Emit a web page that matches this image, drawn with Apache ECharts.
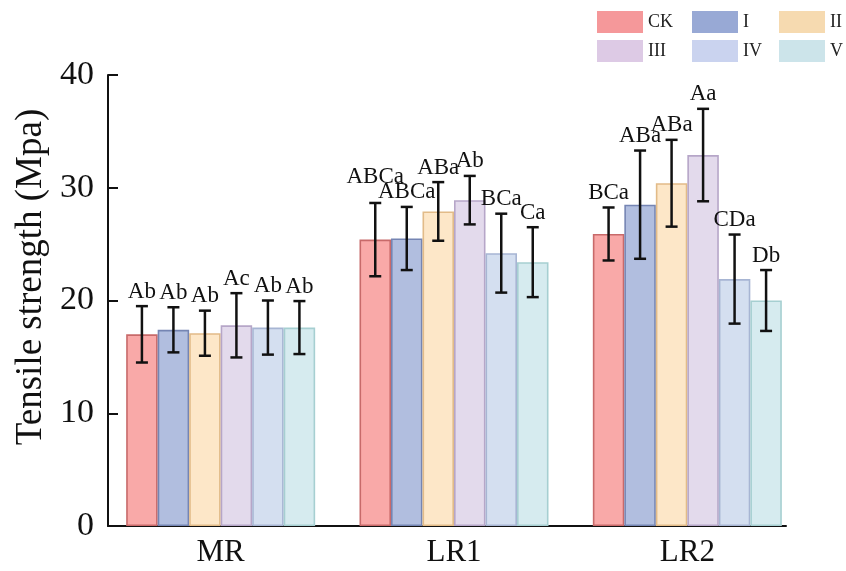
<!DOCTYPE html>
<html><head><meta charset="utf-8">
<script src="https://cdn.jsdelivr.net/npm/echarts@6/dist/echarts.min.js"></script>
<style>html,body{margin:0;padding:0;background:#fff}#c{width:846px;height:571px}</style>
</head><body><div id="c"></div>
<script>
// ---- data ----
var categories = ['MR', 'LR1', 'LR2'];
var seriesNames = ['CK', 'I', 'II', 'III', 'IV', 'V'];
var meanCK  = [17.0, 25.4, 25.9];
var meanI   = [17.4, 25.5, 28.5];
var meanII  = [17.1, 27.9, 30.4];
var meanIII = [17.8, 28.9, 32.9];
var meanIV  = [17.6, 24.2, 21.9];
var meanV   = [17.6, 23.4, 20.0];
var errCK  = [2.5, 3.25, 2.35];
var errI   = [2.0, 2.8, 4.8];
var errII  = [2.0, 2.6, 3.85];
var errIII = [2.85, 2.15, 4.1];
var errIV  = [2.4, 3.5, 3.95];
var errV   = [2.35, 3.1, 2.7];
var labCK  = ['Ab', 'ABCa', 'BCa'];
var labI   = ['Ab', 'ABCa', 'ABa'];
var labII  = ['Ab', 'ABa', 'ABa'];
var labIII = ['Ac', 'Ab', 'Aa'];
var labIV  = ['Ab', 'BCa', 'CDa'];
var labV   = ['Ab', 'Ca', 'Db'];
var yTicks = [0, 10, 20, 30, 40];

// ---- styles ----
var means = [meanCK, meanI, meanII, meanIII, meanIV, meanV];
var errs = [errCK, errI, errII, errIII, errIV, errV];
var labs = [labCK, labI, labII, labIII, labIV, labV];
var fills = ['#F9A9A8', '#B1BEDF', '#FDE7C8', '#E3DAEC', '#D4DFF0', '#D6EBEF'];
var borders = ['#C86A6A', '#7585B3', '#E2BB88', '#B6A6C8', '#A7B5D3', '#A6CFD1'];
var legendColors = ['#F5989A', '#98A9D5', '#F6DAB0', '#DDCAE5', '#CAD3EF', '#CCE4EA'];
var legendPos = [[597, 11], [692, 11], [779, 11], [597, 40], [692, 40], [779, 40]];
var GAP = 0.19;
var FONT = '"Liberation Serif", "Times New Roman", serif';

var series = [];
seriesNames.forEach(function (n, i) {
  series.push({
    name: n, type: 'bar', xAxisIndex: 0, yAxisIndex: 0,
    data: means[i], barGap: '0%', barCategoryGap: (GAP * 100) + '%',
    itemStyle: { color: fills[i], borderColor: borders[i], borderWidth: 1.6 },
    emphasis: { disabled: true }
  });
});

var errData = [];
var errMeta = [];
seriesNames.forEach(function (n, i) {
  categories.forEach(function (c, j) {
    errData.push([j, means[i][j], errs[i][j], i]);
    errMeta.push(labs[i][j]);
  });
});

series.push({
  type: 'custom', xAxisIndex: 0, yAxisIndex: 0, z: 10,
  data: errData,
  renderItem: function (params, api) {
    var cat = api.value(0), m = api.value(1), e = api.value(2), si = api.value(3);
    var band = api.size([1, 0])[0];
    var bw = band * (1 - GAP) / 6;
    var c = api.coord([cat, m]);
    var x = c[0] - 3 * bw + (si + 0.5) * bw;
    var top = api.coord([cat, m + e])[1];
    var bot = api.coord([cat, m - e])[1];
    var cap = 6;
    var st = { stroke: '#111', lineWidth: 2.5 };
    var lift = (si === 0 && cat === 1) ? 12 : 0;
    return {
      type: 'group',
      children: [
        { type: 'line', shape: { x1: x, y1: top, x2: x, y2: bot }, style: st },
        { type: 'line', shape: { x1: x - cap, y1: top, x2: x + cap, y2: top }, style: st },
        { type: 'line', shape: { x1: x - cap, y1: bot, x2: x + cap, y2: bot }, style: st },
        { type: 'text', x: x, y: top - 3 - lift,
          style: { text: errMeta[params.dataIndex], fill: '#111', font: '23px ' + FONT,
                   textAlign: 'center', textVerticalAlign: 'bottom' } }
      ]
    };
  }
});

var legends = seriesNames.map(function (n, i) {
  return {
    left: legendPos[i][0], top: legendPos[i][1], itemWidth: 46, itemHeight: 22,
    icon: 'rect', selectedMode: false, padding: 0,
    data: [{ name: n, itemStyle: { color: legendColors[i], borderWidth: 0 } }],
    textStyle: { fontFamily: FONT, fontSize: 18, color: '#222' }
  };
});

var option = {
  animation: false,
  backgroundColor: '#fff',
  legend: legends,
  grid: [
    { left: 104, right: 42, top: 75, bottom: 45 },
    { left: 108, right: 60, top: 75, bottom: 45 }
  ],
  xAxis: [
    { type: 'category', gridIndex: 0, data: categories,
      axisLine: { show: false }, axisTick: { show: false },
      axisLabel: { fontFamily: FONT, fontSize: 31, color: '#111', margin: 11 } },
    { type: 'value', gridIndex: 1, min: 0, max: 1,
      axisLine: { show: true, lineStyle: { color: '#111', width: 2 } },
      axisTick: { show: false }, axisLabel: { show: false }, splitLine: { show: false } }
  ],
  yAxis: [
    { type: 'value', gridIndex: 0, min: 0, max: 40, show: false, splitLine: { show: false } },
    { type: 'value', gridIndex: 1, min: yTicks[0], max: yTicks[yTicks.length - 1], interval: 10,
      axisLine: { show: true, lineStyle: { color: '#111', width: 2 } },
      axisTick: { show: true, inside: true, length: 10, lineStyle: { color: '#111', width: 2 } },
      axisLabel: { fontFamily: FONT, fontSize: 34, color: '#111', margin: 14 },
      splitLine: { show: false } }
  ],
  graphic: [{
    type: 'text', x: 31, y: 277, rotation: Math.PI / 2,
    style: { text: 'Tensile strength (Mpa)', font: '37px ' + FONT, fill: '#111',
             textAlign: 'center', textVerticalAlign: 'middle' }
  }],
  series: series
};
echarts.init(document.getElementById('c')).setOption(option);
</script></body></html>
